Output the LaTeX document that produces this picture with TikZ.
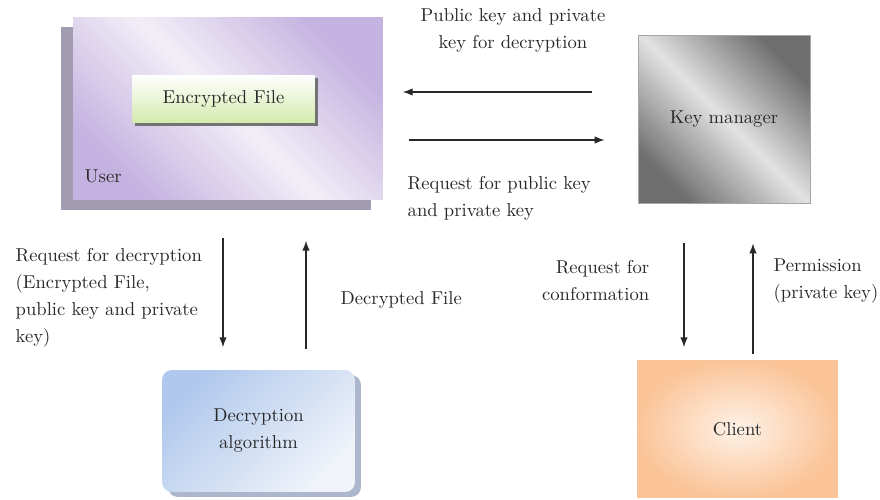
\documentclass[tikz,border=0pt]{standalone}
\usetikzlibrary{arrows.meta,shadows}

\definecolor{userpurple}{RGB}{196,178,224}
\definecolor{userlight}{RGB}{242,238,247}
\definecolor{usershadow}{RGB}{162,156,178}
\definecolor{filegreen}{RGB}{212,234,172}
\definecolor{keydark}{RGB}{110,110,110}
\definecolor{keylight}{RGB}{226,226,226}
\definecolor{algblue}{RGB}{176,200,236}
\definecolor{alglight}{RGB}{240,244,250}
\definecolor{algshadow}{RGB}{172,182,204}
\definecolor{clientorange}{RGB}{251,196,152}
\definecolor{clientlight}{RGB}{254,242,232}
\definecolor{txt}{RGB}{40,40,40}

\begin{document}
\begin{tikzpicture}[x=0.02cm, y=-0.02cm, thick,
    every node/.style={font=\fontsize{10.6}{15.4}\selectfont, text=txt},
    box/.style={shape=rectangle, draw=none, inner sep=0pt},
    lbl/.style={inner sep=0pt},
    arr/.style={-{Latex[length=2mm,width=1.5mm]}, line width=0.8pt, draw=txt}]
  \useasboundingbox (0,0) rectangle (880,500);

  \node[box, minimum width=62mm, minimum height=36.6mm, top color=userpurple, bottom color=userpurple, middle color=userlight, shading angle=-45, drop shadow={shadow xshift=-2.4mm, shadow yshift=-2mm, fill=usershadow, opacity=1}] (user) at (228,108.5) {};
  \node[box, minimum width=36.6mm, minimum height=9.6mm, top color=white, bottom color=filegreen, drop shadow={shadow xshift=0.6mm, shadow yshift=-0.6mm, fill=black!55, opacity=1}] (encfile) at (223.5,99) {Encrypted File};
  \node[lbl, anchor=west] (userlbl) at (84,176) {User};

  \node[box, minimum width=34.4mm, minimum height=33.6mm, top color=keydark, bottom color=keydark, middle color=keylight, shading angle=-45, draw=black!35, thin] (keymgr) at (724,119) {Key manager};

  \node[box, rounded corners=2mm, minimum width=38.6mm, minimum height=24.4mm, top color=algblue, bottom color=alglight, shading angle=45, align=center, drop shadow={shadow xshift=1.2mm, shadow yshift=-1mm, fill=algshadow, opacity=1}] (decalg) at (258.5,431) {Decryption\\algorithm};

  \node[box, minimum width=40.2mm, minimum height=27.6mm, inner color=clientlight, outer color=clientorange] (client) at (737.5,429) {Client};

  \draw[arr, shorten <=9.2mm, shorten >=3.8mm] (keymgr.west |- 0,92) -- (user.east |- 0,92);
  \draw[arr, shorten <=5mm, shorten >=6.6mm] (user.east |- 0,140) -- (keymgr.west |- 0,140);
  \draw[arr, shorten <=7.4mm, shorten >=4.4mm] (user.south -| 223,0) -- (decalg.north -| 223,0);
  \draw[arr, shorten <=4mm, shorten >=8mm] (decalg.north -| 306,0) -- (user.south -| 306,0);
  \draw[arr, shorten <=8mm, shorten >=2.4mm] (keymgr.south -| 684,0) -- (client.north -| 684,0);
  \draw[arr, shorten <=1mm, shorten >=8mm] (client.north -| 753,0) -- (keymgr.south -| 753,0);

  \node[lbl, align=center] (pubpriv) at (513,30) {Public key and private\\key for decryption};
  \node[lbl, align=left, anchor=west] (reqpub) at (407,198) {Request for public key\\and private key};
  \node[lbl, align=left, anchor=west] (reqdec) at (15,298) {Request for decryption\\(Encrypted File,\\public key and private\\key)};
  \node[lbl, anchor=west] (decfile) at (340,300) {Decrypted File};
  \node[lbl, align=right, anchor=east] (reqconf) at (650,281) {Request for\\conformation};
  \node[lbl, align=left, anchor=west] (perm) at (773,281) {Permission\\(private key)};
\end{tikzpicture}
\end{document}
